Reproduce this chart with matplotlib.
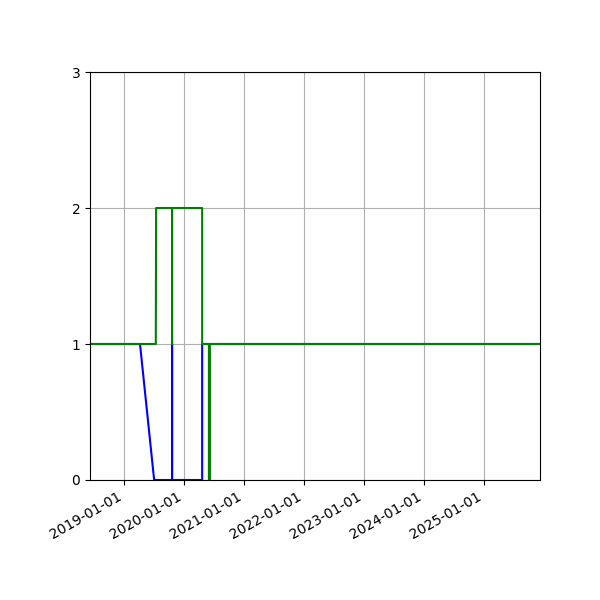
import matplotlib
matplotlib.use("Agg")
import matplotlib.pyplot as plt
import matplotlib.dates as mdates
from datetime import datetime

# blue series
blue_dates = ["2018-06-11", "2019-04-11", "2019-07-06", "2019-10-23", "2019-10-23",
              "2019-10-23", "2020-04-23", "2020-04-23", "2025-12-07"]
blue_values = [1, 1, 0, 0, 1, 0, 0, 1, 1]

# green series
green_dates = ["2018-06-11", "2019-07-16", "2019-07-18", "2019-10-23", "2019-10-23",
               "2019-10-23", "2020-04-23", "2020-04-23", "2020-06-03", "2020-06-03",
               "2020-06-09", "2020-06-09", "2025-12-07"]
green_values = [1, 1, 2, 2, 1, 2, 2, 1, 1, 0, 0, 1, 1]

x_start = "2018-06-11"
x_end = "2025-12-07"


def to_dt(lst):
    return [datetime.strptime(s, "%Y-%m-%d") for s in lst]


fig, ax = plt.subplots(figsize=(6, 6), dpi=100)
ax.plot(to_dt(blue_dates), blue_values, color="blue")
ax.plot(to_dt(green_dates), green_values, color="green")

ax.set_xlim(to_dt([x_start, x_end]))
ax.set_ylim(0, 3)
ax.set_yticks([0, 1, 2, 3])
ax.xaxis.set_major_locator(mdates.YearLocator())
ax.xaxis.set_major_formatter(mdates.DateFormatter("%Y-%m-%d"))
ax.grid(True)
fig.autofmt_xdate()
fig.subplots_adjust(left=0.15, right=0.9, top=0.88, bottom=0.2)

fig.savefig("out.png")
